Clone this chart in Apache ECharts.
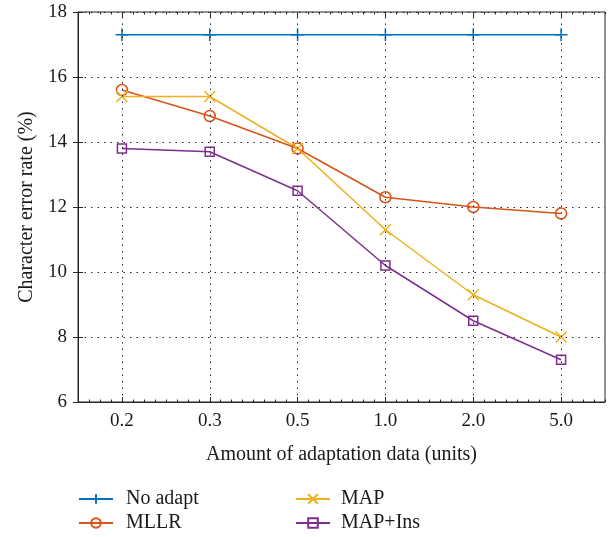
<!DOCTYPE html>
<html>
<head>
<meta charset="utf-8">
<script src="https://cdn.jsdelivr.net/npm/echarts@6/dist/echarts.min.js"></script>
<style>html,body{margin:0;padding:0;background:#fff}#c{width:609px;height:537px}</style>
</head>
<body>
<div id="c"></div>
<script>
const categories = ['0.2', '0.3', '0.5', '1.0', '2.0', '5.0'];
const noAdapt = [17.3, 17.3, 17.3, 17.3, 17.3, 17.3];
const mllr = [15.6, 14.8, 13.8, 12.3, 12.0, 11.8];
const map = [15.4, 15.4, 13.8, 11.3, 9.3, 8.0];
const mapIns = [13.8, 13.7, 12.5, 10.2, 8.5, 7.3];
const yTicks = [6, 8, 10, 12, 14, 16, 18];

const FONT = 'Liberation Serif';
const AX = '#262626';
const TXT = '#1a1a1a';
const gridDash = [1.5, 5];
const chart = echarts.init(document.getElementById('c'), null, {renderer: 'canvas'});

function mk(name, data, color, symbol, size, extra) {
  return Object.assign({
    name, type: 'line', data, xAxisIndex: 0, yAxisIndex: 0,
    symbol, symbolSize: size, showSymbol: true,
    lineStyle: {color, width: 1.5},
    itemStyle: {color: 'none', borderColor: color, borderWidth: 1.5},
    emphasis: {disabled: true}, animation: false, z: 3
  }, extra || {});
}
const option = {
  animation: false,
  textStyle: {fontFamily: FONT, color: TXT},
  grid: {left: 78, right: 4, top: 12, bottom: 135, show: true, borderColor: AX, borderWidth: 1, backgroundColor: 'transparent'},
  legend: [
    {data: ['No adapt', 'MLLR'], orient: 'vertical', left: 78, top: 489, padding: 0, itemGap: 4, itemWidth: 34, itemHeight: 12,
     textStyle: {fontFamily: FONT, fontSize: 20, color: TXT, padding: [0, 0, 0, 8]}},
    {data: ['MAP', 'MAP+Ins'], orient: 'vertical', left: 295, top: 489, padding: 0, itemGap: 4, itemWidth: 34, itemHeight: 12,
     textStyle: {fontFamily: FONT, fontSize: 20, color: TXT, padding: [0, 0, 0, 6]}}
  ],
  xAxis: [
    {type: 'category', data: categories, position: 'bottom', boundaryGap: true,
     name: 'Amount of adaptation data (units)', nameLocation: 'middle', nameGap: 43,
     nameTextStyle: {fontFamily: FONT, fontSize: 20, color: TXT},
     axisLine: {lineStyle: {color: AX, width: 1}},
     axisTick: {show: true, inside: true, alignWithLabel: true, length: 5, lineStyle: {color: AX}},
     axisLabel: {fontFamily: FONT, fontSize: 19, color: TXT, margin: 10},
     splitLine: {show: false}},
    {type: 'category', data: categories, position: 'top', boundaryGap: true,
     axisLine: {show: false}, axisLabel: {show: false},
     axisTick: {show: true, inside: true, alignWithLabel: true, length: 5, lineStyle: {color: AX}},
     splitLine: {show: false}},
    {type: 'value', min: 0, max: 48, interval: 1, position: 'bottom',
     axisLine: {show: false}, axisLabel: {show: false}, splitLine: {show: false},
     axisTick: {show: true, inside: true, length: 2.5, lineStyle: {color: AX}}},
    {type: 'value', min: 0, max: 48, interval: 1, position: 'top',
     axisLine: {show: false}, axisLabel: {show: false}, splitLine: {show: false},
     axisTick: {show: true, inside: true, length: 2.5, lineStyle: {color: AX}}}
  ],
  yAxis: [
    {type: 'value', min: yTicks[0], max: yTicks[yTicks.length - 1], interval: 2, position: 'left',
     name: 'Character error rate (%)', nameLocation: 'middle', nameGap: 38,
     nameTextStyle: {fontFamily: FONT, fontSize: 20, color: TXT},
     axisLine: {show: true, lineStyle: {color: AX}},
     axisTick: {show: true, inside: true, length: 5, lineStyle: {color: AX}},
     axisLabel: {fontFamily: FONT, fontSize: 19, color: TXT, margin: 11},
     splitLine: {show: true, lineStyle: {color: AX, type: gridDash, width: 1}}},
    {type: 'value', min: yTicks[0], max: yTicks[yTicks.length - 1], interval: 2, position: 'right',
     axisLine: {show: false}, axisLabel: {show: false}, splitLine: {show: false},
     axisTick: {show: true, inside: true, length: 5, lineStyle: {color: AX}}}
  ],
  series: [
    mk('No adapt', noAdapt, '#0072BD', 'path://M5,0V10M0,5H10', 13, {
      markLine: {
        silent: true, symbol: ['none', 'none'], label: {show: false}, animation: false,
        lineStyle: {color: AX, type: gridDash, width: 1},
        emphasis: {disabled: true},
        data: categories.map(c => ({xAxis: c}))
      }
    }),
    mk('MLLR', mllr, '#D95319', 'circle', 11),
    mk('MAP', map, '#EDB120', 'path://M0,0L10,10M10,0L0,10', 11),
    mk('MAP+Ins', mapIns, '#7E2F8E', 'rect', 9)
  ]
};
chart.setOption(option);
</script>
</body>
</html>
